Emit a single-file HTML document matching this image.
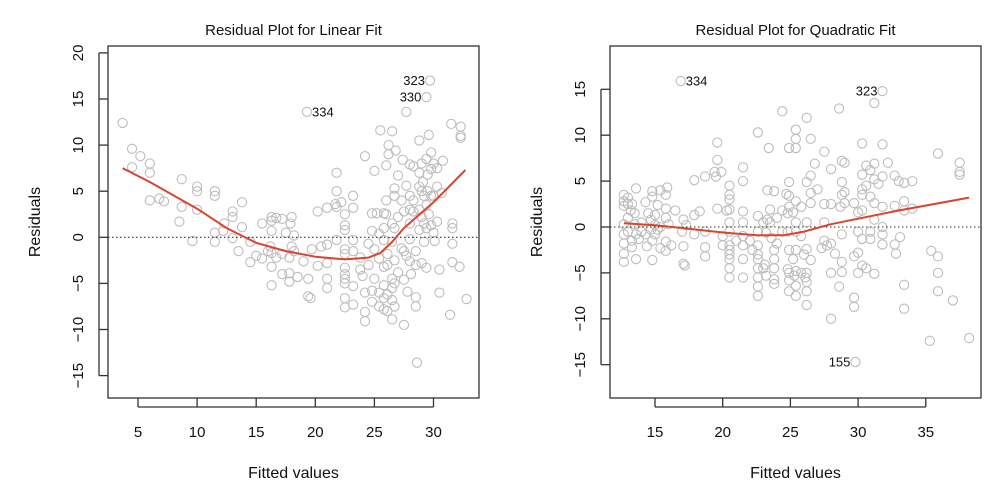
<!DOCTYPE html>
<html><head><meta charset="utf-8"><style>
body{margin:0;background:#fff}
svg{display:block;font-family:"Liberation Sans",sans-serif}
</style></head><body>
<svg id="chart" width="1001" height="501" xmlns="http://www.w3.org/2000/svg"></svg>
<script>
const linXTicks=[5,10,15,20,25,30];
const linYTicks=[-15,-10,-5,0,5,10,15,20];
const linPoints=[[3.7,12.4],[4.5,9.6],[4.5,7.6],[5.2,8.8],[6,8],[6,7],[6,4],[6.8,4.2],[7.2,3.9],[8.5,1.7],[8.7,6.3],[8.7,3.3],[9.6,-0.4],[10,5.5],[10,5],[10,3],[11.5,5],[11.5,4.5],[11.5,0.5],[11.5,-0.5],[12.2,0.7],[12.3,1.5],[13,2.8],[13,2.2],[13,-0.1],[13.5,-1.5],[13.8,3.8],[13.8,1.1],[14.5,-0.5],[14.5,-2.7],[15,-2],[15.5,1.5],[15.5,-2.3],[16,-1.5],[16.2,-1],[16.3,2.2],[16.3,1.8],[16.3,0.7],[16.3,-1.7],[16.3,-3.2],[16.3,-5.2],[16.7,2.1],[16.7,-2.2],[17.2,2],[17.2,-1.8],[17.2,-4],[17.5,0.5],[17.8,-2.2],[17.8,-3.9],[17.8,-4.8],[17.9,1.5],[18,2.2],[18,-1],[18.2,0.2],[18.2,-1.5],[18.5,-4.3],[19.4,-4.5],[19.4,-6.4],[19.6,-6.6],[19,-2.6],[19.7,-1.3],[19.3,13.6],[20.2,2.8],[20.2,-3.1],[20.5,-1],[21,-0.8],[21,3.2],[21,-2.8],[21,-4.5],[21,-5.5],[21.7,3.6],[21.8,3.3],[21.8,7],[21.8,5],[22.2,3.8],[21.8,-0.3],[22.5,2.5],[22.5,1.3],[22.5,0.8],[22.5,-1.3],[22.5,-1.8],[22.5,-4],[22.5,-6.6],[22.5,-7.6],[22.5,-4.5],[22.5,-5],[22.5,-3.3],[23.2,4.5],[23.2,3.2],[23.2,-0.3],[23.2,-1.5],[23.2,-5.3],[23.2,-7.3],[23.8,-2.2],[23.8,-3.5],[24,-4.2],[24.2,-6],[24.2,-8.1],[24.2,-9.1],[24.2,8.8],[24.5,-0.7],[24.5,-3],[24.8,2.6],[24.8,0.7],[24.8,-5.8],[24.8,-7],[25,7.2],[25,-1.3],[25,-4.5],[25.2,2.6],[25.4,0.4],[25.4,-2.3],[25.4,-6],[25.4,-7.5],[25.5,11.6],[25.8,2.6],[25.8,1],[25.8,-0.3],[25.8,-3.2],[25.8,-5.2],[25.8,-6.6],[25.8,-7.8],[26,4],[26,7.8],[26,2.5],[26.1,-1.8],[26.1,-3],[26.1,-6.2],[26.1,-8],[26.2,10],[26.2,9],[26.5,11.5],[26.5,1.5],[26.5,-0.5],[26.5,-4.5],[26.5,-5.5],[26.5,-6.8],[26.5,-8.9],[26.7,5.3],[26.7,4.5],[26.7,1],[26.7,-2.5],[26.7,-5],[26.7,-7.5],[26.8,9.4],[27,6.7],[27,2.2],[27,-3.8],[27.3,4],[27.3,-1.2],[27.4,8.4],[27.5,2.8],[27.5,-1.5],[27.5,-4.6],[27.5,-9.5],[27.7,13.6],[27.7,5.6],[27.7,-2],[27.8,-5.9],[28,7.9],[28,4.5],[28,3],[28,1.5],[28,-0.2],[28,-2.6],[28.1,-4],[28.3,7.7],[28.3,4],[28.3,2.8],[28.5,-1.5],[28.5,-3],[28.5,-6.5],[28.5,-7.5],[28.6,-13.6],[28.8,10.5],[28.8,7],[28.8,5.5],[28.8,3],[28.8,0.8],[29,8],[29,5],[29,2.2],[29,-2.8],[29.1,6],[29.2,4.5],[29.2,1.5],[29.2,-0.5],[29.4,15.2],[29.4,8.5],[29.4,3.5],[29.4,1],[29.4,-3.3],[29.5,6.8],[29.5,5],[29.6,11.1],[29.6,2.5],[29.7,17],[29.8,9.2],[29.8,7.4],[29.8,4.5],[29.8,1.3],[30,8],[30,4.5],[30,0.5],[30.1,-0.4],[30.3,7.5],[30.3,5.5],[30.3,1.7],[30.5,-3.5],[30.5,-6],[30.7,4.8],[30.8,8.3],[31.6,1.5],[31.6,1],[31.6,-0.7],[31.6,-2.7],[31.5,12.3],[31.4,-8.4],[32.3,12],[32.3,11],[32.3,10.8],[32.2,-3.2],[32.8,-6.7]];
const linFitX=[3.7,6,10,12.5,15,17.5,20,22.5,24.5,25.5,26.5,27.5,30,32.7];
const linFitY=[7.5,6,3.1,1,-0.6,-1.5,-2.1,-2.4,-2.2,-1.7,-0.5,1,3.8,7.3];
const linLabels=[["334",19.3,13.6,"r"],["323",29.7,17,"l"],["330",29.4,15.2,"l"]];

const quadXTicks=[15,20,25,30,35];
const quadYTicks=[-15,-10,-5,0,5,10,15];
const quadPoints=[[12.7,3.5],[12.7,2.8],[12.7,2.3],[12.7,0.3],[12.7,-0.8],[12.7,-1.8],[12.7,-2.9],[12.7,-3.8],[13,3.2],[13,2.5],[13,1],[13,-0.5],[13.2,1.8],[13.3,2.5],[13.3,-1.5],[13.3,-2.2],[13.5,1.5],[13.5,0.3],[13.6,4.2],[13.6,-0.8],[13.6,-3.5],[13.8,-1.3],[14,-0.5],[14,0.5],[14.3,2.7],[14.3,-0.8],[14.4,-2.1],[14.5,1.5],[14.7,0.8],[14.7,-0.3],[14.8,3.9],[14.8,3.3],[14.8,-1.5],[14.8,-3.6],[15,1.3],[15,0.2],[15,-0.8],[15.2,2.4],[15.2,-0.3],[15.4,4],[15.4,0],[15.4,-2.3],[15.8,3.5],[15.8,2],[15.8,1],[15.8,-1.6],[15.8,-2.6],[15.9,4.3],[16,0.3],[16.2,-2],[16.5,1.8],[16.9,15.9],[17,-0.5],[17.1,0.8],[17.1,-2.1],[17.1,-4],[17.2,-4.2],[17.3,0.2],[17.9,5.1],[17.9,1.3],[17.9,-0.8],[18.3,1.7],[18.7,5.5],[18.7,-0.5],[18.7,-2.2],[18.7,-3.2],[19.4,6],[19.5,5.5],[19.6,9.2],[19.6,7.3],[19.6,2],[19.9,6],[20,-1],[20,-2],[20.3,1.8],[20.5,4.5],[20.5,3.5],[20.5,3],[20.5,1.9],[20.5,0.5],[20.5,-0.5],[20.5,-2],[20.5,-2.5],[20.5,-3],[20.5,-3.5],[20.5,-4.5],[20.5,-5.5],[21,-1.5],[21.5,6.5],[21.5,5],[21.5,1.7],[21.5,0.5],[21.5,-1],[21.5,-2],[21.5,-3.5],[21.5,-5.5],[22,-1.5],[22.2,-2.5],[22.6,10.3],[22.6,1.2],[22.6,-0.5],[22.6,-2],[22.6,-3],[22.6,-3.5],[22.6,-4.5],[22.6,-5.5],[22.6,-6.5],[22.6,-7.5],[23,0.5],[23,-4.5],[23.1,-4.1],[23.2,-0.6],[23.2,-5.3],[23.3,4],[23.3,0.8],[23.4,8.6],[23.5,1.9],[23.5,0.5],[23.6,-1.2],[23.8,3.9],[23.8,-2.5],[23.8,-3.5],[23.8,-4.5],[23.8,-5.7],[23.8,-6.2],[24,1],[24,-1.8],[24.4,1.8],[24.4,-0.5],[24.4,12.6],[24.7,3.6],[24.8,1.5],[24.8,-0.5],[24.8,-4.6],[24.9,8.6],[24.9,4.9],[24.9,3.4],[24.9,2.2],[24.9,-2.5],[24.9,-5],[24.9,-5.8],[24.9,-7],[25.2,1.6],[25.2,-3.5],[25.3,-5.3],[25.4,10.6],[25.4,9.6],[25.4,8.6],[25.4,2.8],[25.4,0.5],[25.4,-0.5],[25.4,-2.5],[25.4,-4.8],[25.4,-6.4],[25.4,-7.5],[25.8,2.2],[25.8,-1],[25.8,-5],[26,-3],[26.1,-5.5],[26.2,11.9],[26.2,4.9],[26.2,0.5],[26.2,-2.4],[26.2,-5],[26.2,-6],[26.2,-7],[26.2,-8.5],[26.5,9.6],[26.5,5.6],[26.5,3.7],[26.5,2.6],[26.5,-3.6],[26.8,6.9],[27,4.1],[27.3,-2.3],[27.5,8.2],[27.5,2.5],[27.5,0.5],[27.5,-1.5],[27.7,-2],[28,6.3],[28,2.5],[28,-1.8],[28,-5],[28,-10],[28.3,-2.9],[28.6,12.9],[28.6,-6.5],[28.7,2.2],[28.8,7.2],[28.8,4.9],[28.8,3.5],[28.8,-0.8],[28.8,-3.8],[28.8,-4.9],[29,7],[29,3.8],[29,2.6],[29.7,2.6],[29.7,-3.2],[29.7,-7.7],[29.7,-8.7],[29.8,-14.7],[30,1.6],[30,-0.5],[30,-2.8],[30,-5],[30.3,9.1],[30.3,5.7],[30.3,4.1],[30.3,3.5],[30.3,1.8],[30.3,-1.3],[30.3,-4.2],[30.6,6.7],[30.6,4.5],[30.6,-4.5],[30.9,6.2],[30.9,3.3],[30.9,-0.5],[30.9,-1.3],[31.2,13.5],[31.2,6.9],[31.2,5.2],[31.2,2.6],[31.2,0.8],[31.2,-5.1],[31.5,4.7],[31.8,9],[31.8,5.5],[31.8,2.2],[31.8,0],[31.8,-0.8],[31.8,-1.9],[31.8,14.8],[32.2,7],[32.7,5.6],[32.7,2.3],[32.7,-1.9],[33,5],[32.8,-2.9],[33.1,-1.1],[33.4,4.8],[33.4,2.8],[33.4,1.8],[33.4,-6.3],[33.4,-8.9],[34,5],[34,2],[35.3,-12.4],[35.4,-2.6],[35.9,8],[35.9,-3.2],[35.9,-5],[35.9,-7],[37,-8],[37.5,7],[37.5,6],[37.5,5.7],[38.2,-12.1]];
const quadFitX=[12.7,15,17.5,20,22.5,24.5,26,28,30,33,38.2];
const quadFitY=[0.4,0.2,-0.2,-0.6,-0.9,-0.9,-0.5,0.3,0.9,1.8,3.2];
const quadLabels=[["334",16.9,15.9,"r"],["323",31.8,14.8,"l"],["155",29.8,-14.7,"l"]];

const NS="http://www.w3.org/2000/svg";
const svg=document.getElementById('chart');
function mk(tag,attrs,parent){const e=document.createElementNS(NS,tag);for(const k in attrs)e.setAttribute(k,attrs[k]);(parent||svg).appendChild(e);return e;}

function panel(p){
  const g=mk('g',{});
  
  
  const sx=v=>p.x0px+(v-p.x0)*p.xs;
  const sy=v=>p.y0px-v*p.ys;
  // points
  p.points.forEach(d=>{
    const c=mk('circle',{cx:sx(d[0]),cy:sy(d[1]),r:4.6,fill:'none',stroke:'#bdbdbd','stroke-width':1.1},g);
    
    
  });
  // zero line
  const z=mk('line',{x1:p.bx1,x2:p.bx2,y1:sy(0),y2:sy(0),stroke:'#333','stroke-width':1.1,'stroke-dasharray':'1.5,2.5'},g);
  
  
  // fit line
  const path=p.fitX.map((x,i)=>(i?'L':'M')+sx(x).toFixed(1)+','+sy(p.fitY[i]).toFixed(1)).join(' ');
  const fl=mk('path',{d:path,fill:'none',stroke:'#d9442f','stroke-width':2,'stroke-linejoin':'round'},g);
  
  
  // labels
  p.labels.forEach(l=>{
    const t=mk('text',{x:l[3]==='r'?sx(l[1])+5:sx(l[1])-5,y:sy(l[2])+4.5,'font-size':13,'text-anchor':l[3]==='r'?'start':'end',fill:'#111'},g);
    t.textContent=l[0];
    
    
  });
  // box
  const b=mk('rect',{x:p.bx1,y:46,width:p.bx2-p.bx1,height:352,fill:'none',stroke:'#333','stroke-width':1.3},g);
  
  
  // x ticks
  p.xTicks.forEach(v=>{
    mk('line',{x1:sx(v),x2:sx(v),y1:398,y2:407,stroke:'#333','stroke-width':1.3},g);
    const t=mk('text',{x:sx(v),y:437,'font-size':15,'text-anchor':'middle',fill:'#111'},g);
    t.textContent=v;
    
    
  });
  // y ticks
  p.yTicks.forEach(v=>{
    mk('line',{x1:p.bx1,x2:p.bx1-9,y1:sy(v),y2:sy(v),stroke:'#333','stroke-width':1.3},g);
    const tx=p.ylx;
    const t=mk('text',{x:tx,y:sy(v),'font-size':15,'text-anchor':'middle',fill:'#111',transform:`rotate(-90 ${tx} ${sy(v)})`},g);
    t.textContent=v<0?'\u2212'+(-v):v;
    
    
  });
  const ya=mk('line',{x1:p.bx1-9,x2:p.bx1-9,y1:sy(p.yTicks[0]),y2:sy(p.yTicks[p.yTicks.length-1]),stroke:'#333','stroke-width':1.3},g);
  const xa=mk('line',{x1:sx(p.xTicks[0]),x2:sx(p.xTicks[p.xTicks.length-1]),y1:407,y2:407,stroke:'#333','stroke-width':1.3},g);
  const cx=(p.bx1+p.bx2)/2;
  const ti=mk('text',{x:cx,y:35,'font-size':15,'text-anchor':'middle',fill:'#111'},g);
  ti.textContent=p.title;
  
  
  const xl=mk('text',{x:cx,y:478,'font-size':16,'text-anchor':'middle',fill:'#111'},g);
  xl.textContent='Fitted values';
  
  
  const yl=mk('text',{x:p.ytx,y:222,'font-size':16,'text-anchor':'middle',fill:'#111',transform:`rotate(-90 ${p.ytx} 222)`},g);
  yl.textContent='Residuals';
  
  
}

panel({name:'linear-fit-panel',title:'Residual Plot for Linear Fit',points:linPoints,fitX:linFitX,fitY:linFitY,labels:linLabels,xTicks:linXTicks,yTicks:linYTicks,
  x0:5,x0px:138,xs:59.1/5,y0px:237.3,ys:46.1/5,bx1:108,bx2:479,ylx:83,ytx:40});
panel({name:'quadratic-fit-panel',title:'Residual Plot for Quadratic Fit',points:quadPoints,fitX:quadFitX,fitY:quadFitY,labels:quadLabels,xTicks:quadXTicks,yTicks:quadYTicks,
  x0:15,x0px:655,xs:67.7/5,y0px:227,ys:45.9/5,bx1:610,bx2:981,ylx:585,ytx:542});
</script>
</body></html>
